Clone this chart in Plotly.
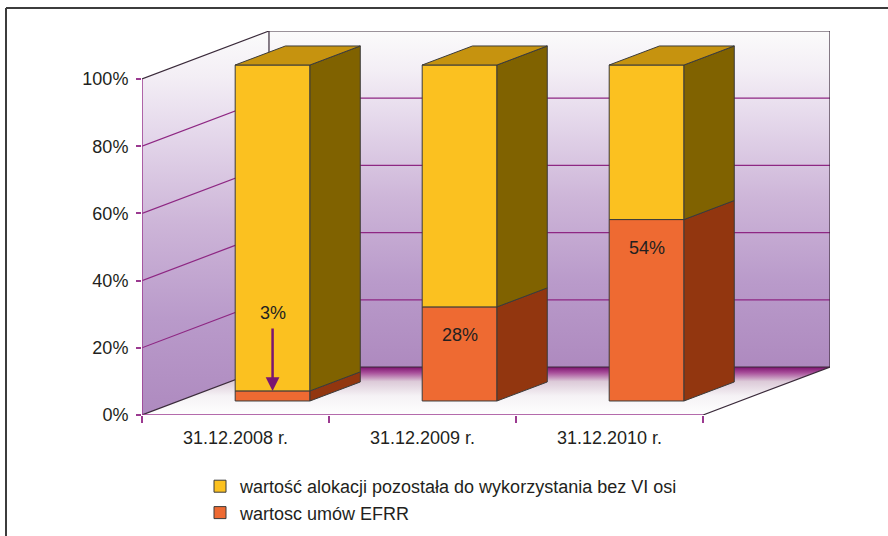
import plotly.graph_objects as go

# ---------------- data ----------------
categories = ["31.12.2008 r.", "31.12.2009 r.", "31.12.2010 r."]
efrr = [3, 28, 54]                 # wartosc umów EFRR (%)
remaining = [97, 72, 46]           # wartość alokacji pozostała (%)
value_labels = ["3%", "28%", "54%"]
y_ticks = [0, 20, 40, 60, 80, 100]
y_tick_text = ["0%", "20%", "40%", "60%", "80%", "100%"]
name_remaining = "wartość alokacji pozostała do wykorzystania bez VI osi"
name_efrr = "wartosc umów EFRR"

# ---------------- 3D geometry (in axis units) ----------------
N = len(categories)
DX = 0.679      # depth offset along x (category units)
DY = 14.29      # depth offset along y (percent units)
F0, F1 = 0.292, 0.688   # bar front / back depth fractions
BW = 0.4        # bar width (category units)
XR = [0, N + DX]
YR = [0, 100 + DY]

PURPLE = "#9B3A90"
GRID = "#8E2783"
EDGE = "#3a2a3a"
BAR_EDGE = "#3b3b3b"
FONT = "Liberation Sans, Arial, sans-serif"
TXT = "#231F20"

Y_FRONT, Y_SIDE, Y_TOP = "#FBC120", "#806200", "#C6930F"
O_FRONT, O_SIDE = "#EE6A32", "#92360F"

fig = go.Figure()

# ---------------- walls / floor (main axes) ----------------
wall_scale = [[0, "#AE8ABF"], [0.25, "#B99ACA"], [0.5, "#CDB5D8"],
              [0.75, "#E6DAEC"], [0.88, "#F3EEF5"], [1, "#FBFBFB"]]
fig.add_trace(go.Scatter(
    x=[DX, N + DX, N + DX, DX, DX], y=[DY, DY, 100 + DY, 100 + DY, DY],
    mode="lines", line=dict(width=0), fill="toself",
    fillgradient=dict(type="vertical", colorscale=wall_scale),
    showlegend=False, hoverinfo="skip"))
fig.add_trace(go.Scatter(
    x=[0, DX, DX, 0, 0], y=[0, DY, 100 + DY, 100, 0],
    mode="lines", line=dict(width=0), fill="toself",
    fillgradient=dict(type="vertical", colorscale=wall_scale),
    showlegend=False, hoverinfo="skip"))
floor_scale = [[0, "#FFFFFF"], [0.4, "#F5F2F5"], [0.7, "#DCCAD8"],
               [0.88, "#A84F9A"], [1, "#7D126F"]]
fig.add_trace(go.Scatter(
    x=[0, N, N + DX, DX, 0], y=[0, 0, DY, DY, 0],
    mode="lines", line=dict(width=0), fill="toself",
    fillgradient=dict(type="vertical", colorscale=floor_scale),
    showlegend=False, hoverinfo="skip"))

# gridlines on side and back walls
gx, gy = [], []
for v in y_ticks[1:-1]:
    gx += [0, DX, N + DX, None]
    gy += [v, v + DY, v + DY, None]
fig.add_trace(go.Scatter(x=gx, y=gy, mode="lines",
                         line=dict(color=GRID, width=1.2),
                         showlegend=False, hoverinfo="skip"))
# wall edges
top = y_ticks[-1]
ex = [0, DX, N + DX, N + DX, N, None, 0, DX, N + DX, None, DX, DX]
ey = [top, top + DY, top + DY, DY, 0, None, 0, DY, DY, None, DY, top + DY]
fig.add_trace(go.Scatter(x=ex, y=ey, mode="lines",
                         line=dict(color=EDGE, width=1.2),
                         showlegend=False, hoverinfo="skip"))
# front axis lines
fig.add_trace(go.Scatter(x=[0, 0, None, 0, N], y=[top, 0, None, 0, 0],
                         mode="lines", line=dict(color=PURPLE, width=1.5),
                         showlegend=False, hoverinfo="skip"))

# ---------------- bars (overlay axes) ----------------
base0 = F0 * DY
xpos = [i + 0.5 + F0 * DX for i in range(N)]
fig.add_trace(go.Bar(
    x=xpos, y=efrr, base=[base0] * N, width=BW, name=name_efrr,
    marker=dict(color=O_FRONT, line=dict(color=BAR_EDGE, width=1)),
    xaxis="x2", yaxis="y2", legendrank=2, hoverinfo="skip"))
fig.add_trace(go.Bar(
    x=xpos, y=remaining, base=[base0 + e for e in efrr], width=BW,
    name=name_remaining,
    marker=dict(color=Y_FRONT, line=dict(color=BAR_EDGE, width=1)),
    xaxis="x2", yaxis="y2", legendrank=1, hoverinfo="skip"))

ddx = (F1 - F0) * DX
ddy = (F1 - F0) * DY


def poly(px, py, color):
    fig.add_trace(go.Scatter(
        x=px + [px[0]], y=py + [py[0]], mode="lines", fill="toself",
        fillcolor=color, line=dict(color=BAR_EDGE, width=1),
        xaxis="x2", yaxis="y2", showlegend=False, hoverinfo="skip"))


for i in range(N):
    xl = xpos[i] - BW / 2
    xr = xpos[i] + BW / 2
    segs = [(base0, base0 + efrr[i], O_SIDE),
            (base0 + efrr[i], base0 + efrr[i] + remaining[i], Y_SIDE)]
    for lo, hi, col in segs:
        poly([xr, xr + ddx, xr + ddx, xr], [lo, lo + ddy, hi + ddy, hi], col)
    t = base0 + efrr[i] + remaining[i]
    poly([xl, xr, xr + ddx, xl + ddx], [t, t, t + ddy, t + ddy], Y_TOP)

# ---------------- value labels ----------------
annotations = []
for i in range(N):
    if efrr[i] < 10:
        annotations.append(dict(
            x=xpos[i], y=base0 + efrr[i], ax=xpos[i], ay=base0 + 22,
            xref="x", yref="y", axref="x", ayref="y", text="",
            showarrow=True, arrowhead=2, arrowsize=1.1, arrowwidth=2.5,
            arrowcolor="#7B1670"))
        annotations.append(dict(
            x=xpos[i], y=base0 + 26.2, xref="x", yref="y",
            text=value_labels[i], showarrow=False,
            font=dict(family=FONT, size=18, color=TXT)))
    else:
        annotations.append(dict(
            x=xpos[i], y=base0 + efrr[i] - 8.5, xref="x", yref="y",
            text=value_labels[i], showarrow=False,
            font=dict(family=FONT, size=18, color=TXT)))

# ---------------- layout ----------------
L, R, T, B = 142, 58, 31, 121
W, H = 888, 536
pw, ph = W - L - R, H - T - B


def px2paper(x, y):
    return (x - L) / pw, (H - B - y) / ph


x0, y0 = px2paper(6, 8)
x1, _ = px2paper(888, 8)
_, y1 = px2paper(6, 536)
shapes = [
    dict(type="line", xref="paper", yref="paper", x0=x0, y0=y0, x1=x1, y1=y0,
         line=dict(color="#3c3c3c", width=2)),
    dict(type="line", xref="paper", yref="paper", x0=x0, y0=y0, x1=x0, y1=y1,
         line=dict(color="#3c3c3c", width=2)),
]

lx, ly = px2paper(200, 468)

fig.update_layout(
    width=W, height=H,
    margin=dict(l=L, r=R, t=T, b=B, pad=0, autoexpand=False),
    paper_bgcolor="white", plot_bgcolor="rgba(0,0,0,0)",
    barmode="overlay",
    font=dict(family=FONT, size=18, color=TXT),
    showlegend=True,
    legend=dict(x=lx, y=ly, xanchor="left", yanchor="top",
                bgcolor="rgba(0,0,0,0)", font=dict(size=18, color=TXT),
                itemwidth=30, tracegroupgap=0),
    xaxis=dict(range=XR, showgrid=False, zeroline=False, showline=False,
               tickvals=[i + 0.5 for i in range(N)], ticktext=categories,
               ticks="", ticklabelstandoff=10, fixedrange=True,
               automargin=False,
               minor=dict(tickvals=list(range(N + 1)), ticks="outside",
                          ticklen=7, tickcolor=PURPLE, tickwidth=1.5)),
    yaxis=dict(range=YR, showgrid=False, zeroline=False, showline=False,
               tickvals=y_ticks, ticktext=y_tick_text, ticks="outside",
               ticklen=5, tickcolor=PURPLE, tickwidth=1.5,
               ticklabelstandoff=4, fixedrange=True, automargin=False),
    xaxis2=dict(range=XR, overlaying="x", anchor="y2", visible=False,
                fixedrange=True),
    yaxis2=dict(range=YR, overlaying="y", anchor="x2", visible=False,
                fixedrange=True),
    annotations=annotations,
    shapes=shapes,
)

fig.write_html(
    "out.html",
    config={"displayModeBar": False},
    post_script="document.body.style.margin='0';"
                "document.body.style.overflow='hidden';")
